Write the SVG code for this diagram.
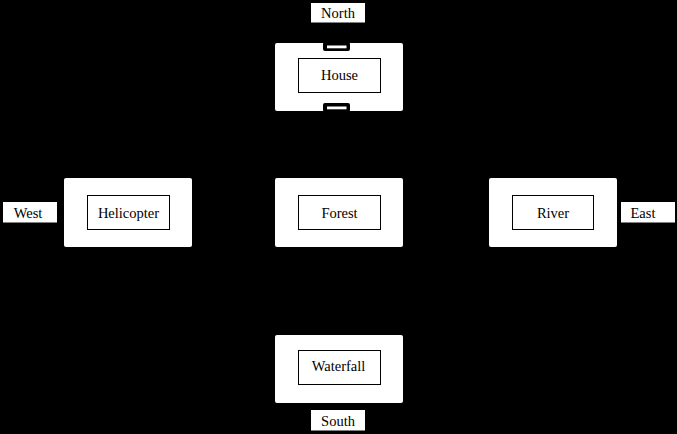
<svg xmlns="http://www.w3.org/2000/svg" width="677" height="434" viewBox="0 0 677 434">
<style>
.outer{fill:#fff;stroke:none}
.inner{fill:#fff;stroke:#000;stroke-width:1}
.lbl{fill:#fff;stroke:none}
.t{font-family:'Liberation Serif','Times New Roman',serif;font-size:14.5px;fill:#000;text-anchor:middle}
.door{fill:#000}
.doorw{fill:#fff}
</style>
<rect x="0" y="0" width="677" height="434" fill="#000"/>
<g id="house">
<rect class="outer" x="275" y="43" width="128" height="68" rx="2"/>
<rect class="inner" x="298.5" y="58.5" width="82" height="34"/>
<text class="t" x="339.5" y="80">House</text>
<rect class="door" x="323" y="42" width="27" height="9" rx="2"/>
<rect class="doorw" x="327" y="45.5" width="19.5" height="2.8"/>
<rect class="door" x="323" y="103" width="27" height="9" rx="2"/>
<rect class="doorw" x="327" y="106.5" width="19.5" height="2.8"/>
</g>
<g id="north">
<rect class="lbl" x="311" y="3" width="54" height="19.5"/>
<text class="t" x="338" y="18">North</text>
</g>
<g id="helicopter">
<rect class="outer" x="64" y="178" width="128" height="69" rx="2"/>
<rect class="inner" x="87.5" y="195.5" width="82" height="34"/>
<text class="t" x="128.5" y="217.5">Helicopter</text>
</g>
<g id="west">
<rect class="lbl" x="3" y="202" width="54" height="20.5"/>
<text class="t" x="28" y="217.5">West</text>
</g>
<g id="forest">
<rect class="outer" x="275" y="178" width="128" height="69" rx="2"/>
<rect class="inner" x="298.5" y="195.5" width="82" height="34"/>
<text class="t" x="339.5" y="217.5">Forest</text>
</g>
<g id="river">
<rect class="outer" x="489" y="178" width="128" height="69" rx="2"/>
<rect class="inner" x="512.5" y="195.5" width="81" height="34"/>
<text class="t" x="553" y="217.5">River</text>
</g>
<g id="east">
<rect class="lbl" x="621" y="202" width="54" height="20.5"/>
<text class="t" x="643" y="217.5">East</text>
</g>
<g id="waterfall">
<rect class="outer" x="275" y="335" width="128" height="68" rx="2"/>
<rect class="inner" x="298.5" y="350.5" width="82" height="34"/>
<text class="t" x="338.5" y="371">Waterfall</text>
</g>
<g id="south">
<rect class="lbl" x="311" y="410" width="54" height="20.5"/>
<text class="t" x="338" y="426">South</text>
</g>
<g id="connectors"></g>
</svg>
